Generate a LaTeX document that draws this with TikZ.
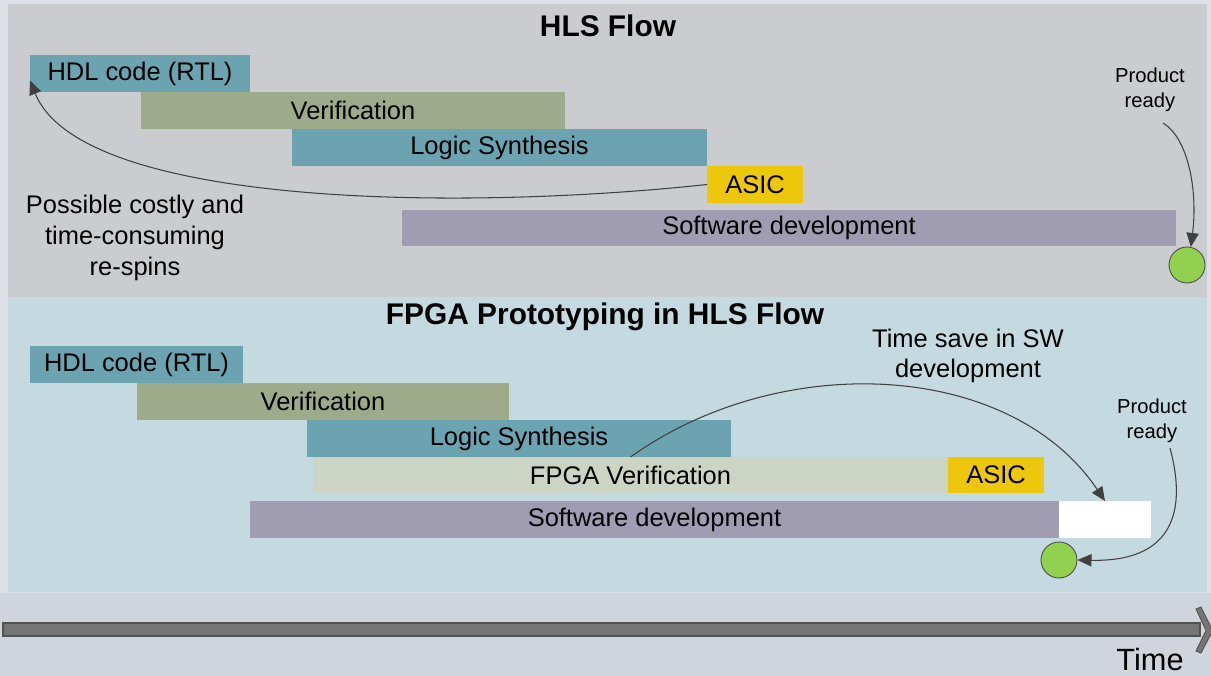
\documentclass[tikz,border=0pt]{standalone}
\usepackage{fontspec}
\setmainfont{Liberation Sans}
\usetikzlibrary{arrows.meta}
\definecolor{outerbg}{HTML}{DDE0E6}
\definecolor{timebg}{HTML}{D0D4DC}
\definecolor{panelgray}{HTML}{CBCCD0}
\definecolor{panelblue}{HTML}{C4D9E0}
\definecolor{barteal}{HTML}{6CA3B1}
\definecolor{barolive}{HTML}{9EAB8B}
\definecolor{baryellow}{HTML}{EDC70C}
\definecolor{barpurple}{HTML}{A09CB2}
\definecolor{barpale}{HTML}{CCD5C4}
\definecolor{readygreen}{HTML}{92D050}
\begin{document}
\begin{tikzpicture}[x=0.02cm,y=-0.02cm,
    bar/.style={rectangle,inner sep=0pt,outer sep=0pt,minimum height=0.74cm,font=\fontsize{14.5}{17}\selectfont},
    done/.style={circle,draw=black!70,fill=readygreen,inner sep=0pt,minimum size=0.72cm,line width=0.5pt},
    title/.style={font=\fontsize{17}{20}\selectfont\bfseries},
    note/.style={align=center,font=\fontsize{14.5}{17.5}\selectfont},
    small/.style={align=center,font=\fontsize{11.5}{14}\selectfont},
    link/.style={draw=black!75,line width=0.6pt,-{Triangle[length=8pt,width=7pt]}}]
    \useasboundingbox (0,0) rectangle (1211,676);
    % backgrounds
    \fill[outerbg] (0,0) rectangle (1211,676);
    \fill[timebg] (0,593) rectangle (1211,676);
    \fill[panelgray] (8,4) rectangle (1207,297);
    \fill[panelblue] (8,297) rectangle (1207,592);
    % HLS flow
    \node(titleA)[title] at (608,26){HLS Flow};
    \node(hdlA)[bar,fill=barteal,minimum width=4.40cm] at (140,73.5){HDL code (RTL)};
    \node(verA)[bar,fill=barolive,minimum width=8.48cm] at (353,110.5){Verification};
    \node(synA)[bar,fill=barteal,minimum width=8.30cm] at (499.5,147.5){Logic Synthesis};
    \node(asicA)[bar,fill=baryellow,minimum width=1.92cm] at (755,184.5){ASIC};
    \node(swA)[bar,fill=barpurple,minimum width=15.48cm,minimum height=0.72cm] at (789,228){Software development};
    \node(doneA)[done] at (1187,265){};
    \node(respin)[note] at (135,238){Possible costly and\\time-consuming\\re-spins};
    \node(readyA)[small] at (1150,90){Product\\ready};
    \coordinate(fromA) at (1163,123);
    \draw[link] (asicA.west) .. controls (450,212) and (80,205) .. ([yshift=-4pt]hdlA.west);
    \draw[link] (fromA) .. controls (1188,138) and (1198,190) .. (doneA.78);
    % FPGA prototyping
    \node(titleB)[title] at (605,317){FPGA Prototyping in HLS Flow};
    \node(hdlB)[bar,fill=barteal,minimum width=4.26cm] at (136.5,364.5){HDL code (RTL)};
    \node(verB)[bar,fill=barolive,minimum width=7.44cm] at (323,401.5){Verification};
    \node(synB)[bar,fill=barteal,minimum width=8.48cm] at (519,438.5){Logic Synthesis};
    \node(fpgaB)[bar,fill=barpale,minimum width=12.70cm,minimum height=0.72cm] at (630.5,475){FPGA Verification};
    \node(asicB)[bar,fill=baryellow,minimum width=1.92cm,minimum height=0.72cm] at (996,475){ASIC};
    \node(swB)[bar,fill=barpurple,minimum width=16.18cm] at (654.5,519.5){Software development};
    \node(saveB)[bar,fill=white,minimum width=1.84cm] at (1105,519.5){};
    \node(doneB)[done] at (1059,560){};
    \node(saving)[note] at (968,356){Time save in SW\\development};
    \node(readyB)[small] at (1152,421){Product\\ready};
    \coordinate(fromB) at (1170,448);
    \draw[link] (fpgaB.north) .. controls (780,350) and (1010,360) .. (saveB.north);
    \draw[link] (fromB) .. controls (1188,515) and (1170,562) .. (doneB.east);
    % time axis
    \fill[black!54,draw=black!68,line width=0.6pt] (3,623) rectangle (1200,636);
    \fill[black!54,draw=black!68,line width=0.5pt] (1196,609) -- (1201,607) -- (1211,627) -- (1211,634) -- (1201,653) -- (1196,651) -- (1206,630.5) -- cycle;
    \node(time)[font=\fontsize{17.5}{20}\selectfont] at (1150,660){Time};
\end{tikzpicture}
\end{document}
